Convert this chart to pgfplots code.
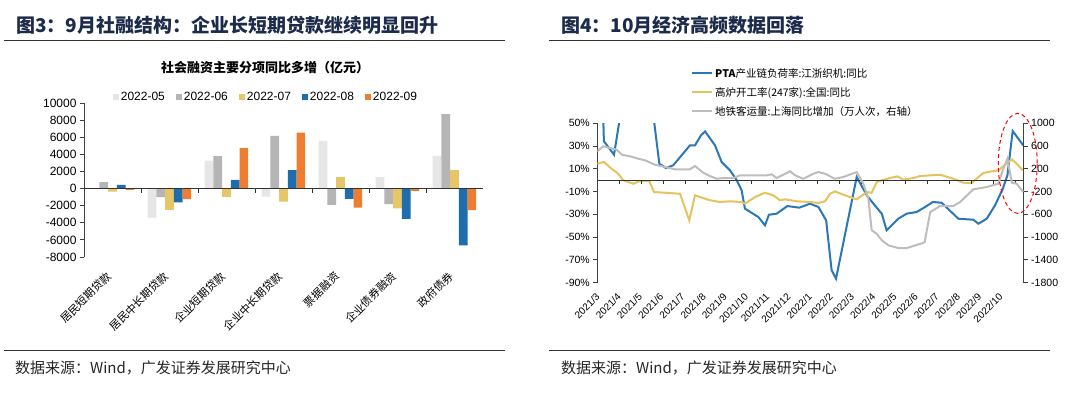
\documentclass[border=0pt]{standalone}
\usepackage{fontspec}
\setmainfont{Liberation Sans}
\newfontfamily\cjk{Noto Sans CJK SC}
\usepackage{pgfplots}
\pgfplotsset{compat=1.18}
\definecolor{cA}{HTML}{E6E6E6}
\definecolor{cB}{HTML}{B5B5B5}
\definecolor{cC}{HTML}{E7C66A}
\definecolor{cD}{HTML}{1F6DAA}
\definecolor{cE}{HTML}{EE7D31}
\definecolor{lblue}{HTML}{2C77B5}
\definecolor{lyel}{HTML}{E5C35E}
\definecolor{lgray}{HTML}{BDBDBD}
\definecolor{navy}{HTML}{1D2B4B}
\begin{document}
\begin{tikzpicture}[x=1pt,y=1pt]
\useasboundingbox (0,0) rectangle (1080,398);
\fill[white] (0,0) rectangle (1080,398);
% ---------- headers and footers
\node[anchor=west, text=navy, font=\cjk\bfseries\fontsize{19}{22}\selectfont, inner sep=0pt] at (16,373) {图3：9月社融结构：企业长短期贷款继续明显回升};
\node[anchor=west, text=navy, font=\cjk\bfseries\fontsize{19}{22}\selectfont, inner sep=0pt] at (561,373) {图4：10月经济高频数据回落};
\draw[line width=1.2pt, black!80] (4,357.3) -- (505,357.3);
\draw[line width=1.2pt, black!80] (549,357.3) -- (1050,357.3);
\draw[line width=1.2pt, black!80] (4,47.3) -- (505,47.3);
\draw[line width=1.2pt, black!80] (549,47.3) -- (1050,47.3);
\node[anchor=west, text=black!85, font=\cjk\fontsize{15}{18}\selectfont, inner sep=0pt] at (15,30) {数据来源：Wind，广发证券发展研究中心};
\node[anchor=west, text=black!85, font=\cjk\fontsize{15}{18}\selectfont, inner sep=0pt] at (561,30) {数据来源：Wind，广发证券发展研究中心};
\node[font=\cjk\bfseries\fontsize{13}{15}\selectfont, inner sep=0pt] at (265,330) {社会融资主要分项同比多增（亿元）};
% ---------- left bar chart
\begin{axis}[
  at={(84pt,141pt)}, anchor=south west, scale only axis,
  width=399pt, height=154pt,
  ybar=0pt, bar width=8.7pt,
  xmin=-0.5, xmax=6.5, ymin=-8000, ymax=10000,
  scaled y ticks=false,
  axis y line*=left, axis x line*=bottom,
  x axis line style={draw=none}, major x tick style={draw=none},
  y axis line style={black!75, line width=0.9pt},
  major y tick style={black!75, line width=0.9pt},
  tick align=outside, major tick length=4pt,
  xtick={0,1,2,3,4,5,6},
  xticklabels={居民短期贷款,居民中长期贷款,企业短期贷款,企业中长期贷款,票据融资,企业债券融资,政府债券},
  xticklabel style={font=\cjk\fontsize{11}{11}\selectfont, xshift=-7pt, yshift=-8pt, rotate=45, anchor=north east, inner sep=1pt},
  ytick={-8000,-6000,...,10000},
  yticklabel style={font=\fontsize{12}{12}\selectfont},
  /pgf/number format/1000 sep={},
  /pgf/number format/assume math mode=true,
  legend style={at={(0.456,1.039)}, anchor=center, draw=none, fill=none,
    legend columns=5, font=\fontsize{12}{12}\selectfont,
    /tikz/every even column/.append style={column sep=9pt}},
  legend image code/.code={\draw[#1,draw=none] (0pt,-3pt) rectangle (6pt,3pt);},
]
\addplot[fill=cA, draw=none] coordinates {(0,0) (1,-3400) (2,3270) (3,-930) (4,5570) (5,1330) (6,3820)};
\addplot[fill=cB, draw=none] coordinates {(0,750) (1,-1000) (2,3780) (3,6160) (4,-1900) (5,-1820) (6,8690)};
\addplot[fill=cC, draw=none] coordinates {(0,-350) (1,-2490) (2,-970) (3,-1520) (4,1330) (5,-2330) (6,2150)};
\addplot[fill=cD, draw=none] coordinates {(0,430) (1,-1630) (2,1020) (3,2150) (4,-1200) (5,-3540) (6,-6650)};
\addplot[fill=cE, draw=none] coordinates {(0,-150) (1,-1240) (2,4720) (3,6540) (4,-2220) (5,-270) (6,-2530)};
\legend{2022-05,2022-06,2022-07,2022-08,2022-09}
\draw[black!80, line width=0.9pt] (axis cs:-0.5,0) -- (axis cs:6.5,0);
\pgfplotsinvokeforeach{0.5,1.5,2.5,3.5,4.5,5.5,6.5}{\draw[black!80, line width=0.9pt] (axis cs:#1,0) -- ([yshift=-4pt]axis cs:#1,0);}
\end{axis}
% ---------- right line chart, left axis
\begin{axis}[
  at={(597.3pt,115.3pt)}, anchor=south west, scale only axis,
  width=426.4pt, height=159.4pt,
  xmin=0, xmax=19.38, ymin=-90, ymax=50,
  axis y line*=left, axis x line*=bottom,
  x axis line style={draw=none}, major x tick style={draw=none},
  y axis line style={black!75, line width=0.9pt},
  major y tick style={black!75, line width=0.9pt},
  tick align=outside, major tick length=4pt,
  xtick={0,0.9636,1.9273,2.8909,3.8545,4.8182,5.7818,6.7455,7.7091,8.6727,9.6364,10.6,11.5636,12.5273,13.4909,14.4545,15.4182,16.3818,17.3455,18.3091},
  xticklabels={2021/3,2021/4,2021/5,2021/6,2021/7,2021/8,2021/9,2021/10,2021/11,2021/12,2022/1,2022/2,2022/3,2022/4,2022/5,2022/6,2022/7,2022/8,2022/9,2022/10},
  xticklabel style={font=\fontsize{10}{10}\selectfont, xshift=-2pt, yshift=-4pt, rotate=45, anchor=north east, inner sep=1pt},
  ytick={-90,-70,...,50},
  yticklabel={\pgfmathprintnumber{\tick}\%},
  yticklabel style={font=\fontsize{10.5}{10.5}\selectfont},
  /pgf/number format/assume math mode=true,
  legend style={at={(0.2127,1.372)}, anchor=north west, draw=none, fill=none,
    font=\cjk\fontsize{10.5}{12}\selectfont, row sep=4.5pt, legend cell align=left},
  legend image code/.code={\draw[#1] (0pt,0pt) -- (20pt,0pt);},
]
\addplot[lblue, line width=2pt] coordinates {(0.22,90) (0.30,34.2) (0.76,22.4) (0.99,50.2) (1.08,90) (2.52,90) (2.59,50.2) (2.82,14.5) (3.12,10.7) (3.45,13.1) (4.21,30.6) (4.44,30.6) (4.71,39.4) (4.90,42.9) (5.35,30.6) (5.65,16.0) (6.03,8.7) (6.34,-0.1) (6.56,-8.9) (6.71,-25.0) (7.32,-32.3) (7.62,-39.6) (7.80,-30.3) (8.15,-29.4) (8.64,-22.7) (9.18,-24.1) (9.67,-20.6) (10.05,-23.5) (10.40,-35.2) (10.65,-79.1) (10.85,-86.5) (11.79,2.8) (12.25,-13.3) (12.55,-20.6) (12.93,-29.4) (13.15,-44.0) (13.68,-33.8) (14.06,-29.4) (14.52,-27.9) (14.90,-23.5) (15.25,-19.1) (15.65,-19.8) (16.41,-33.8) (17.09,-34.7) (17.32,-38.2) (17.70,-33.8) (18.08,-22.0) (18.43,-7.5) (18.64,4.3) (18.88,43.2) (19.36,30.6)};
\addlegendentry{\textbf{PTA}产业链负荷率:江浙织机:同比}
\addplot[lyel, line width=2pt] coordinates {(0,14.5) (0.30,16.0) (0.65,10.1) (0.95,5.7) (1.18,-0.1) (1.64,-3.1) (1.94,-0.7) (2.36,-0.7) (2.58,-10.4) (3.08,-11.0) (3.76,-11.9) (4.18,-35.2) (4.44,-13.3) (4.90,-16.2) (5.12,-17.6) (5.58,-19.1) (6.03,-18.5) (6.56,-19.1) (6.71,-20.6) (7.17,-14.8) (7.62,-11.0) (8.0,-13.3) (8.3,-17.6) (8.53,-16.8) (9.06,-18.5) (9.66,-19.1) (10.05,-20.0) (10.35,-18.5) (10.58,-11.9) (10.8,-9.8) (11.18,-12.7) (11.79,-16.8) (12.25,-10.4) (12.47,-11.0) (12.70,-1.6) (12.93,-0.1) (13.30,1.9) (13.64,3.4) (13.91,0.4) (14.36,1.9) (14.67,3.7) (15.58,4.8) (16.18,1.3) (16.64,-2.2) (17.02,-2.5) (17.32,2.8) (17.55,6.3) (17.93,7.8) (18.23,8.7) (18.53,13.6) (18.84,18.3) (19.06,14.5) (19.34,8.7)};
\addlegendentry{高炉开工率(247家):全国:同比}
\addlegendimage{lgray, line width=2pt}
\addlegendentry{地铁客运量:上海同比增加（万人次，右轴）}
\draw[black!80, line width=0.9pt] (axis cs:0,0) -- (axis cs:19.38,0);
\pgfplotsinvokeforeach{1,2,3,4,5,6,7,8,9,10,11,12,13,14,15,16,17,18,19}{\draw[black!80, line width=0.9pt] (axis cs:#1,0) -- ([yshift=-3.5pt]axis cs:#1,0);}
\coordinate (ell) at (axis cs:19.11,14.8);
\end{axis}
% ---------- right line chart, right axis
\begin{axis}[
  at={(597.3pt,115.3pt)}, anchor=south west, scale only axis,
  width=426.4pt, height=159.4pt,
  xmin=0, xmax=19.38, ymin=-1800, ymax=1000,
  scaled y ticks=false,
  axis y line*=right, axis x line=none,
  y axis line style={black!75, line width=0.9pt},
  major y tick style={black!75, line width=0.9pt},
  tick align=outside, major tick length=4pt,
  ytick={-1800,-1400,...,1000},
  yticklabel style={font=\fontsize{10.5}{10.5}\selectfont},
  /pgf/number format/1000 sep={},
  /pgf/number format/assume math mode=true,
]
\addplot[lgray, line width=2pt] coordinates {(0,508) (0.27,596) (0.58,566) (0.88,536) (1.11,448) (1.49,420) (1.86,378) (2.17,350) (2.62,272) (3.08,232) (3.53,192) (4.21,192) (4.44,250) (4.82,130) (5.12,74) (5.43,26) (5.73,39) (6.18,39) (6.49,86) (7.7,86) (7.93,104) (8.15,39) (8.45,97) (8.76,156) (8.99,86) (9.36,26) (9.82,114) (10.05,144) (10.35,114) (10.8,26) (11.18,56) (11.79,144) (12.09,-61) (12.32,-325) (12.47,-880) (12.70,-940) (12.93,-1056) (13.23,-1144) (13.68,-1191) (14.06,-1191) (14.36,-1156) (14.79,-1103) (14.88,-1086) (15.13,-559) (15.58,-453) (16.18,-453) (16.49,-383) (17.09,-160) (17.70,-119) (18.23,-61) (18.45,202) (18.64,378) (18.84,-44) (19.06,-61) (19.36,-207)};
\end{axis}
\draw[red, dashed, line width=1pt, dash pattern=on 4pt off 3pt] (ell) ellipse [x radius=19.5pt, y radius=50pt];
\end{tikzpicture}
\end{document}
